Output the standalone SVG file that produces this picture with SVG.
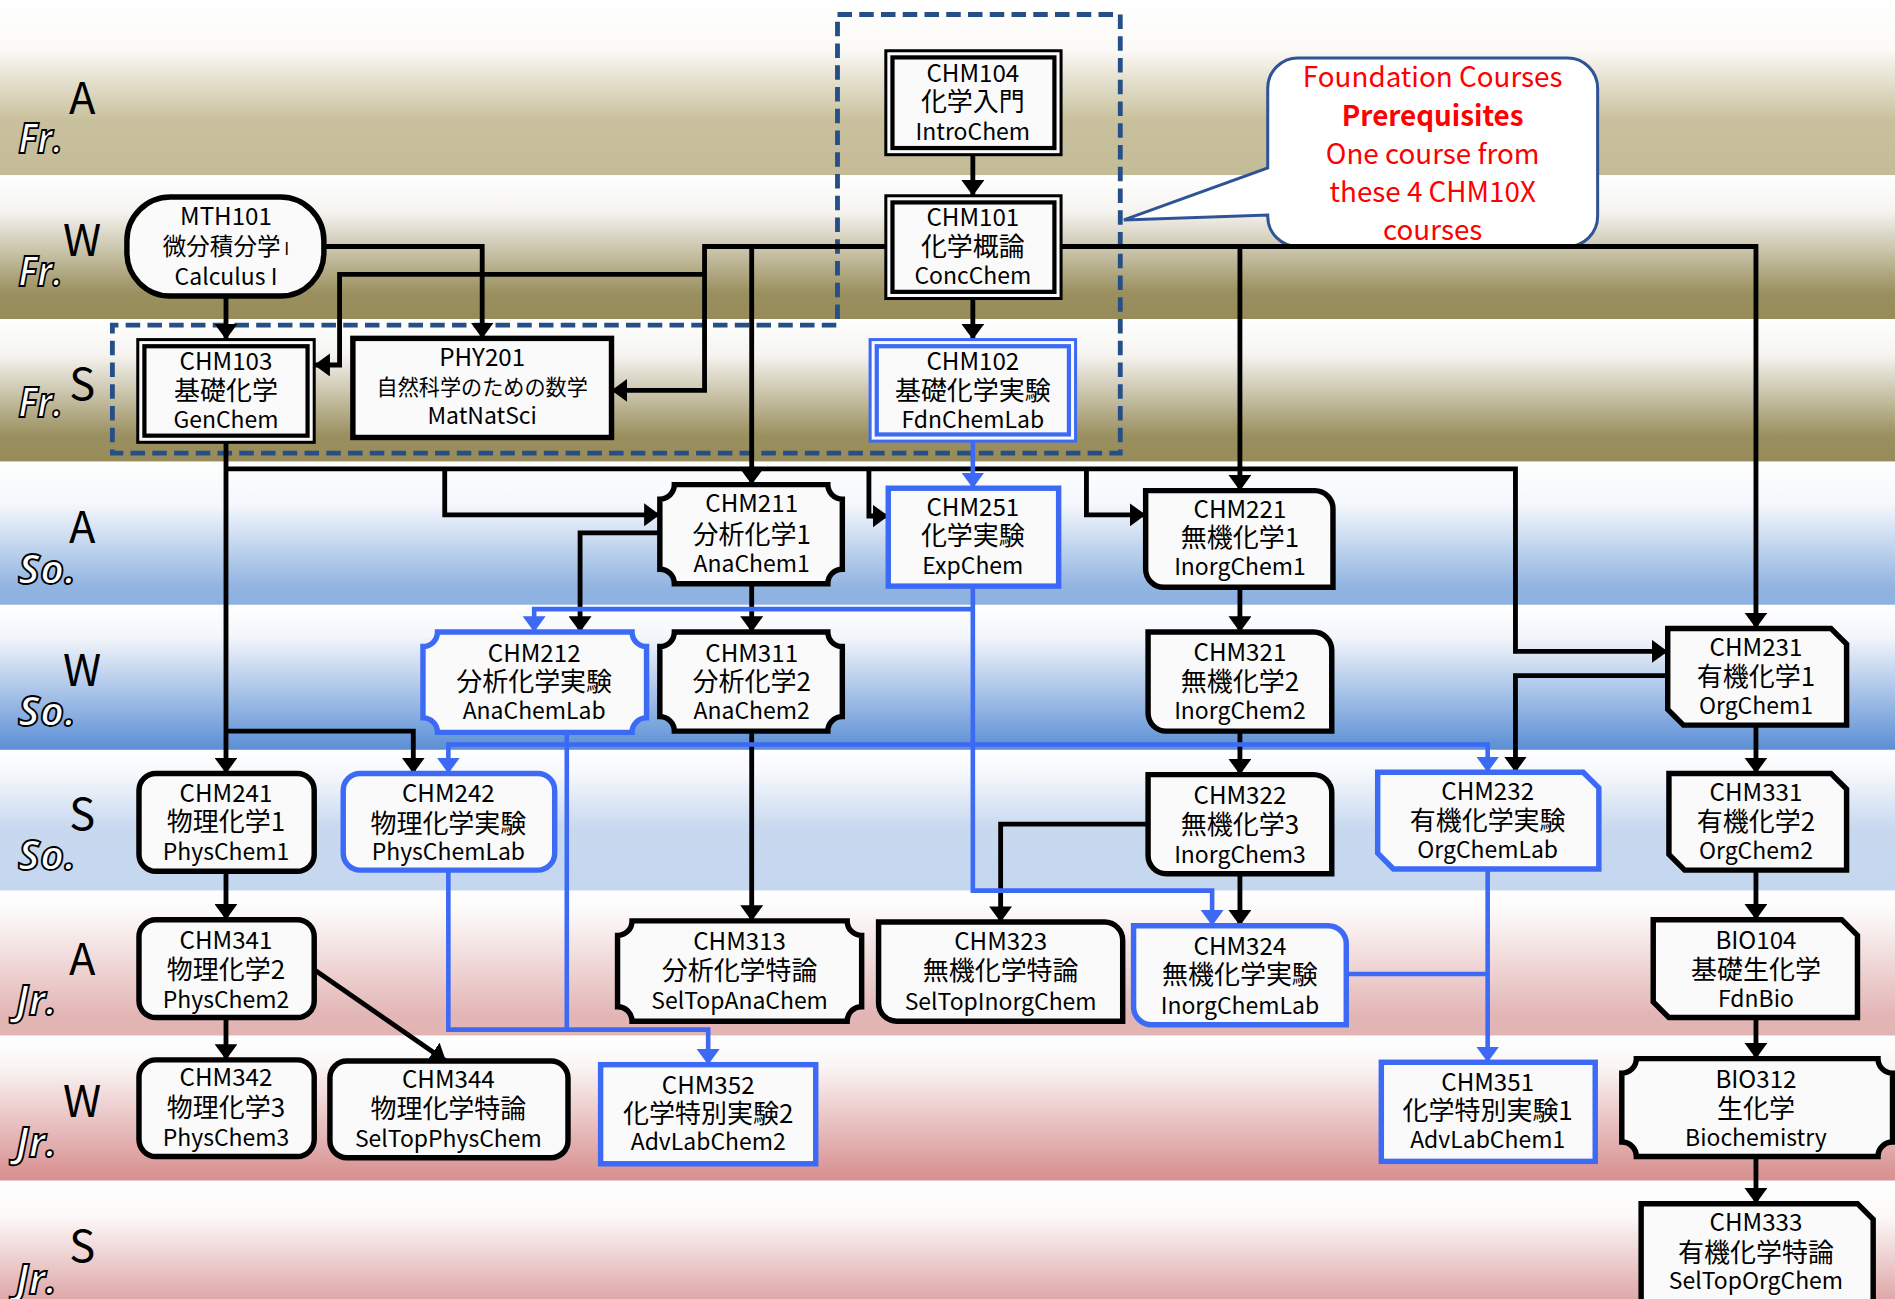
<svg xmlns="http://www.w3.org/2000/svg" width="1895" height="1299" viewBox="0 0 1895 1299">
<style>
.t{font-family:'Noto Sans CJK JP','Noto Sans',sans-serif;font-size:19px;text-anchor:middle;fill:#000}
.t:first-of-type{font-size:20px}
.j{font-size:21.5px}
.n{fill:#fafafa;stroke:#000;stroke-width:4.5;stroke-linejoin:miter}
.nb{fill:#fafafa;stroke:#3d6af5;stroke-width:4.5}
.d1{fill:#fafafa;stroke:#000;stroke-width:2.5}
.d2{fill:none;stroke:#000;stroke-width:3.5}
.d1b{fill:#fafafa;stroke:#3d6af5;stroke-width:2.5}
.d2b{fill:none;stroke:#3d6af5;stroke-width:3.5}
.c{fill:none;stroke:#000;stroke-width:4}
.cb{fill:none;stroke:#3d6af5;stroke-width:3.8}
.ca{marker-end:url(#ab)}
.cba{marker-end:url(#abb)}
.sl{font-family:'Noto Sans CJK JP','Noto Sans',sans-serif;font-size:36px;text-anchor:middle;fill:#000}
.yl{font-family:'Open Sans','Noto Sans',sans-serif;font-style:italic;font-weight:bold;font-size:34px;fill:#fff;stroke:#000;stroke-width:1.5}
.co{font-family:'Noto Sans CJK JP','Noto Sans',sans-serif;font-size:23px;text-anchor:middle;fill:#ff0000}
</style>
<defs>
<linearGradient id="gFA" x1="0" y1="0" x2="0" y2="1"><stop offset="0" stop-color="#ffffff"/><stop offset="0.28" stop-color="#fbfaf6"/><stop offset="0.68" stop-color="#c9c19e"/><stop offset="1" stop-color="#c4bc97"/></linearGradient>
<linearGradient id="gFW" x1="0" y1="0" x2="0" y2="1"><stop offset="0" stop-color="#ffffff"/><stop offset="0.25" stop-color="#f5f4f0"/><stop offset="0.82" stop-color="#9a8f5e"/><stop offset="1" stop-color="#978b5a"/></linearGradient>
<linearGradient id="gSA" x1="0" y1="0" x2="0" y2="1"><stop offset="0" stop-color="#ffffff"/><stop offset="0.3" stop-color="#f4f7fc"/><stop offset="0.87" stop-color="#91b4e1"/><stop offset="1" stop-color="#8db1e0"/></linearGradient>
<linearGradient id="gSW" x1="0" y1="0" x2="0" y2="1"><stop offset="0" stop-color="#ffffff"/><stop offset="0.22" stop-color="#f3f6fb"/><stop offset="1" stop-color="#5a8ed5"/></linearGradient>
<linearGradient id="gSS" x1="0" y1="0" x2="0" y2="1"><stop offset="0" stop-color="#ffffff"/><stop offset="0.17" stop-color="#f5f8fc"/><stop offset="0.55" stop-color="#c8d9ef"/><stop offset="1" stop-color="#c5d7ef"/></linearGradient>
<linearGradient id="gJA" x1="0" y1="0" x2="0" y2="1"><stop offset="0" stop-color="#ffffff"/><stop offset="0.16" stop-color="#fcf8f8"/><stop offset="0.85" stop-color="#e3b6b6"/><stop offset="1" stop-color="#e2b3b3"/></linearGradient>
<linearGradient id="gJW" x1="0" y1="0" x2="0" y2="1"><stop offset="0" stop-color="#ffffff"/><stop offset="0.2" stop-color="#fbf6f6"/><stop offset="0.95" stop-color="#d99393"/><stop offset="1" stop-color="#d99292"/></linearGradient>
<linearGradient id="gJS" x1="0" y1="0" x2="0" y2="1"><stop offset="0" stop-color="#ffffff"/><stop offset="0.3" stop-color="#fcf8f8"/><stop offset="1" stop-color="#dea5a5"/></linearGradient>
<marker id="ab" viewBox="0 0 13 19" refX="13" refY="9.5" markerWidth="13" markerHeight="19" markerUnits="userSpaceOnUse" orient="auto"><path d="M0,0 L13,9.5 L0,19 Z" fill="#000"/></marker>
<marker id="abb" viewBox="0 0 13 19" refX="13" refY="9.5" markerWidth="13" markerHeight="19" markerUnits="userSpaceOnUse" orient="auto"><path d="M0,0 L13,9.5 L0,19 Z" fill="#3d6af5"/></marker>
</defs>
<g transform="scale(1.2085)">
<g id="bands">
<rect x="0" y="0" width="1570" height="145" fill="url(#gFA)"/>
<rect x="0" y="145" width="1570" height="119" fill="url(#gFW)"/>
<rect x="0" y="264" width="1570" height="118" fill="url(#gFW)"/>
<rect x="0" y="382" width="1570" height="118.5" fill="url(#gSA)"/>
<rect x="0" y="500.5" width="1570" height="120" fill="url(#gSW)"/>
<rect x="0" y="620.5" width="1570" height="116.5" fill="url(#gSS)"/>
<rect x="0" y="737" width="1570" height="120" fill="url(#gJA)"/>
<rect x="0" y="857" width="1570" height="120" fill="url(#gJW)"/>
<rect x="0" y="977" width="1570" height="100" fill="url(#gJS)"/>
</g>
<g id="labels">
<text class="sl" x="68" y="94">A</text><text class="yl" x="15" y="127" textLength="37" lengthAdjust="spacingAndGlyphs">Fr.</text>
<text class="sl" x="68" y="212">W</text><text class="yl" x="15" y="237" textLength="37" lengthAdjust="spacingAndGlyphs">Fr.</text>
<text class="sl" x="68" y="331">S</text><text class="yl" x="15" y="345" textLength="37" lengthAdjust="spacingAndGlyphs">Fr.</text>
<text class="sl" x="68" y="449">A</text><text class="yl" x="15" y="483" textLength="48" lengthAdjust="spacingAndGlyphs">So.</text>
<text class="sl" x="68" y="568">W</text><text class="yl" x="15" y="601" textLength="48" lengthAdjust="spacingAndGlyphs">So.</text>
<text class="sl" x="68" y="687">S</text><text class="yl" x="15" y="720" textLength="48" lengthAdjust="spacingAndGlyphs">So.</text>
<text class="sl" x="68" y="807">A</text><text class="yl" x="13" y="840" textLength="34" lengthAdjust="spacingAndGlyphs">Jr.</text>
<text class="sl" x="68" y="924">W</text><text class="yl" x="13" y="957" textLength="34" lengthAdjust="spacingAndGlyphs">Jr.</text>
<text class="sl" x="68" y="1044">S</text><text class="yl" x="13" y="1071" textLength="34" lengthAdjust="spacingAndGlyphs">Jr.</text>
</g>
<g id="foundation-group">
<path d="M693,12 H927 V375 H93 V269 H693 Z" fill="none" stroke="#264f87" stroke-width="4" stroke-dasharray="12 6"/>
</g>
<g id="callout">
<path d="M1074,48 H1297 A25 25 0 0 1 1322,73 V179 A25 25 0 0 1 1297,204 H1074 A25 25 0 0 1 1049,179 V178 L930,182 L1049,139 V73 A25 25 0 0 1 1074,48 Z" fill="#ffffff" stroke="#2f5496" stroke-width="2.5"/>
<text class="co" x="1185.5" y="72">Foundation Courses</text>
<text class="co" x="1185.5" y="104" font-weight="bold">Prerequisites</text>
<text class="co" x="1185.5" y="136">One course from</text>
<text class="co" x="1185.5" y="167">these 4 CHM10X</text>
<text class="co" x="1185.5" y="199">courses</text>
</g>
<g id="connectors">
<path class="c ca" d="M805,128 V162"/>
<path class="c ca" d="M805,247 V281"/>
<path class="c ca" d="M187,245 V281"/>
<path class="c ca" d="M268,204 H399 V280"/>
<path class="c ca" d="M733,204 H583 V323 H506"/>
<path class="c ca" d="M583,227 H281 V302 H260"/>
<path class="c ca" d="M622,204 V401"/>
<path class="c ca" d="M878,204 H1453 V520"/>
<path class="c ca" d="M1026,204 V406"/>
<path class="c ca" d="M187,366 V640"/>
<path class="c ca" d="M187,388 H1254 V539 H1380"/>
<path class="c ca" d="M368,388 V426 H546"/>
<path class="c ca" d="M719,388 V427 H735"/>
<path class="c ca" d="M899,388 V426 H948"/>
<path class="c ca" d="M622,483 V523"/>
<path class="c ca" d="M546,441 H480 V523"/>
<path class="c ca" d="M622,605 V762"/>
<path class="c ca" d="M1026,486 V523"/>
<path class="c ca" d="M1026,605 V641"/>
<path class="c ca" d="M1026,723 V766"/>
<path class="c ca" d="M950,682 H828 V763"/>
<path class="c ca" d="M1453,600 V640"/>
<path class="c ca" d="M1380,559 H1254 V639"/>
<path class="c ca" d="M1453,720 V761"/>
<path class="c ca" d="M1453,842 V876"/>
<path class="c ca" d="M1453,956 V996"/>
<path class="c ca" d="M187,721 V761"/>
<path class="c ca" d="M187,842 V877"/>
<path class="c ca" d="M261,803 L369,878"/>
<path class="c ca" d="M187,605 H342 V640"/>
<path class="cb cba" d="M805,365 V404"/>
<path class="cb cba" d="M805,485 V737 H1003 V766"/>
<path class="cb cba" d="M805,504 H442 V523"/>
<path class="cb cba" d="M805,616 H371 V640"/>
<path class="cb cba" d="M805,616 H1231 V639"/>
<path class="cb cba" d="M371,720 V852 H586 V881"/>
<path class="cb" d="M469,606 V852"/>
<path class="cb cba" d="M1231,719 V879"/>
<path class="cb" d="M1114,806 H1231"/>
</g>
<g id="CHM104"><rect class="d1" x="733" y="42" width="145" height="86"/><rect class="d2" x="738.5" y="47.5" width="134" height="75"/>
<text class="t" x="805" y="68">CHM104</text><text class="t j" x="805" y="92">化学入門</text><text class="t" x="805" y="116">IntroChem</text></g>
<g id="CHM101"><rect class="d1" x="733" y="162" width="145" height="85"/><rect class="d2" x="738.5" y="167.5" width="134" height="74"/>
<text class="t" x="805" y="187">CHM101</text><text class="t j" x="805" y="212">化学概論</text><text class="t" x="805" y="235">ConcChem</text></g>
<g id="CHM102"><rect class="d1b" x="720" y="281" width="170" height="84"/><rect class="d2b" x="725.5" y="286.5" width="159" height="73"/>
<text class="t" x="805" y="306">CHM102</text><text class="t j" x="805" y="331">基礎化学実験</text><text class="t" x="805" y="354">FdnChemLab</text></g>
<g id="MTH101"><rect class="n" x="105" y="163" width="163" height="82" rx="36"/>
<text class="t" x="187" y="186">MTH101</text><text class="t" x="187" y="211" style="font-size:19.5px">微分積分学<tspan style="font-size:14px"> I</tspan></text><text class="t" x="187" y="236">Calculus I</text></g>
<g id="CHM103"><rect class="d1" x="114" y="281" width="146" height="85"/><rect class="d2" x="119.5" y="286.5" width="135" height="74"/>
<text class="t" x="187" y="306">CHM103</text><text class="t j" x="187" y="331">基礎化学</text><text class="t" x="187" y="354">GenChem</text></g>
<g id="PHY201"><rect class="n" x="292" y="280" width="214" height="82"/>
<text class="t" x="399" y="303">PHY201</text><text class="t" x="399" y="327" style="font-size:17.5px">自然科学のための数学</text><text class="t" x="399" y="351">MatNatSci</text></g>
<g id="CHM211"><path class="n" d="M558,401 H685 A12 12 0 0 0 697,413 V471 A12 12 0 0 0 685,483 H558 A12 12 0 0 0 546,471 V413 A12 12 0 0 0 558,401 Z"/>
<text class="t" x="622" y="424">CHM211</text><text class="t j" x="622" y="450">分析化学1</text><text class="t" x="622" y="473">AnaChem1</text></g>
<g id="CHM251"><rect class="nb" x="735" y="404" width="141" height="81"/>
<text class="t" x="805" y="427">CHM251</text><text class="t j" x="805" y="451">化学実験</text><text class="t" x="805" y="475">ExpChem</text></g>
<g id="CHM221"><path class="n" d="M948,406 H1088 A15 15 0 0 1 1103,421 V486 H963 A15 15 0 0 1 948,471 Z"/>
<text class="t" x="1026" y="429">CHM221</text><text class="t j" x="1026" y="453">無機化学1</text><text class="t" x="1026" y="476">InorgChem1</text></g>
<g id="CHM212"><path class="nb" d="M362,523 H523 A12 12 0 0 0 535,535 V594 A12 12 0 0 0 523,606 H362 A12 12 0 0 0 350,594 V535 A12 12 0 0 0 362,523 Z"/>
<text class="t" x="442" y="548">CHM212</text><text class="t j" x="442" y="572">分析化学実験</text><text class="t" x="442" y="595">AnaChemLab</text></g>
<g id="CHM311"><path class="n" d="M558,523 H685 A12 12 0 0 0 697,535 V593 A12 12 0 0 0 685,605 H558 A12 12 0 0 0 546,593 V535 A12 12 0 0 0 558,523 Z"/>
<text class="t" x="622" y="548">CHM311</text><text class="t j" x="622" y="572">分析化学2</text><text class="t" x="622" y="595">AnaChem2</text></g>
<g id="CHM321"><path class="n" d="M950,523 H1087 A15 15 0 0 1 1102,538 V605 H965 A15 15 0 0 1 950,590 Z"/>
<text class="t" x="1026" y="547">CHM321</text><text class="t j" x="1026" y="572">無機化学2</text><text class="t" x="1026" y="595">InorgChem2</text></g>
<g id="CHM231"><path class="n" d="M1380,520 H1515 L1528,533 V600 H1393 L1380,587 Z"/>
<text class="t" x="1453" y="543">CHM231</text><text class="t j" x="1453" y="568">有機化学1</text><text class="t" x="1453" y="591">OrgChem1</text></g>
<g id="CHM241"><rect class="n" x="115" y="640" width="145" height="81" rx="14"/>
<text class="t" x="187" y="664">CHM241</text><text class="t j" x="187" y="688">物理化学1</text><text class="t" x="187" y="712">PhysChem1</text></g>
<g id="CHM242"><rect class="nb" x="284" y="640" width="175" height="80" rx="14"/>
<text class="t" x="371" y="664">CHM242</text><text class="t j" x="371" y="689">物理化学実験</text><text class="t" x="371" y="712">PhysChemLab</text></g>
<g id="CHM322"><path class="n" d="M950,641 H1087 A15 15 0 0 1 1102,656 V723 H965 A15 15 0 0 1 950,708 Z"/>
<text class="t" x="1026" y="665">CHM322</text><text class="t j" x="1026" y="690">無機化学3</text><text class="t" x="1026" y="714">InorgChem3</text></g>
<g id="CHM232"><path class="nb" d="M1140,639 H1310 L1323,652 V719 H1153 L1140,706 Z"/>
<text class="t" x="1231" y="662">CHM232</text><text class="t j" x="1231" y="687">有機化学実験</text><text class="t" x="1231" y="710">OrgChemLab</text></g>
<g id="CHM331"><path class="n" d="M1381,640 H1515 L1528,653 V720 H1394 L1381,707 Z"/>
<text class="t" x="1453" y="663">CHM331</text><text class="t j" x="1453" y="688">有機化学2</text><text class="t" x="1453" y="711">OrgChem2</text></g>
<g id="CHM341"><rect class="n" x="115" y="761" width="145" height="81" rx="14"/>
<text class="t" x="187" y="785">CHM341</text><text class="t j" x="187" y="810">物理化学2</text><text class="t" x="187" y="834">PhysChem2</text></g>
<g id="CHM313"><path class="n" d="M523,762 H701 A12 12 0 0 0 713,774 V833 A12 12 0 0 0 701,845 H523 A12 12 0 0 0 511,833 V774 A12 12 0 0 0 523,762 Z"/>
<text class="t" x="612" y="786">CHM313</text><text class="t j" x="612" y="811">分析化学特論</text><text class="t" x="612" y="835">SelTopAnaChem</text></g>
<g id="CHM323"><path class="n" d="M727,763 H914 A15 15 0 0 1 929,778 V845 H742 A15 15 0 0 1 727,830 Z"/>
<text class="t" x="828" y="786">CHM323</text><text class="t j" x="828" y="811">無機化学特論</text><text class="t" x="828" y="836">SelTopInorgChem</text></g>
<g id="CHM324"><path class="nb" d="M938,766 H1099 A15 15 0 0 1 1114,781 V848 H953 A15 15 0 0 1 938,833 Z"/>
<text class="t" x="1026" y="790">CHM324</text><text class="t j" x="1026" y="814">無機化学実験</text><text class="t" x="1026" y="839">InorgChemLab</text></g>
<g id="BIO104"><path class="n" d="M1368,761 H1524 L1537,774 V842 H1381 L1368,829 Z"/>
<text class="t" x="1453" y="785">BIO104</text><text class="t j" x="1453" y="810">基礎生化学</text><text class="t" x="1453" y="833">FdnBio</text></g>
<g id="CHM342"><rect class="n" x="115" y="877" width="145" height="80" rx="14"/>
<text class="t" x="187" y="899">CHM342</text><text class="t j" x="187" y="924">物理化学3</text><text class="t" x="187" y="948">PhysChem3</text></g>
<g id="CHM344"><rect class="n" x="273" y="878" width="197" height="80" rx="14"/>
<text class="t" x="371" y="900">CHM344</text><text class="t j" x="371" y="925">物理化学特論</text><text class="t" x="371" y="949">SelTopPhysChem</text></g>
<g id="CHM352"><rect class="nb" x="497" y="881" width="178" height="82"/>
<text class="t" x="586" y="905">CHM352</text><text class="t j" x="586" y="929">化学特別実験2</text><text class="t" x="586" y="952">AdvLabChem2</text></g>
<g id="CHM351"><rect class="nb" x="1143" y="879" width="177" height="82"/>
<text class="t" x="1231" y="903">CHM351</text><text class="t j" x="1231" y="927">化学特別実験1</text><text class="t" x="1231" y="950">AdvLabChem1</text></g>
<g id="BIO312"><path class="n" d="M1354,876 H1554 A12 12 0 0 0 1566,888 V945 A12 12 0 0 0 1554,957 H1354 A12 12 0 0 0 1342,945 V888 A12 12 0 0 0 1354,876 Z"/>
<text class="t" x="1453" y="900">BIO312</text><text class="t j" x="1453" y="925">生化学</text><text class="t" x="1453" y="948">Biochemistry</text></g>
<g id="CHM333"><path class="n" d="M1358,996 H1537 L1550,1009 V1095 H1371 L1358,1082 Z"/>
<text class="t" x="1453" y="1019">CHM333</text><text class="t j" x="1453" y="1044">有機化学特論</text><text class="t" x="1453" y="1067">SelTopOrgChem</text></g>
</g>
</svg>
